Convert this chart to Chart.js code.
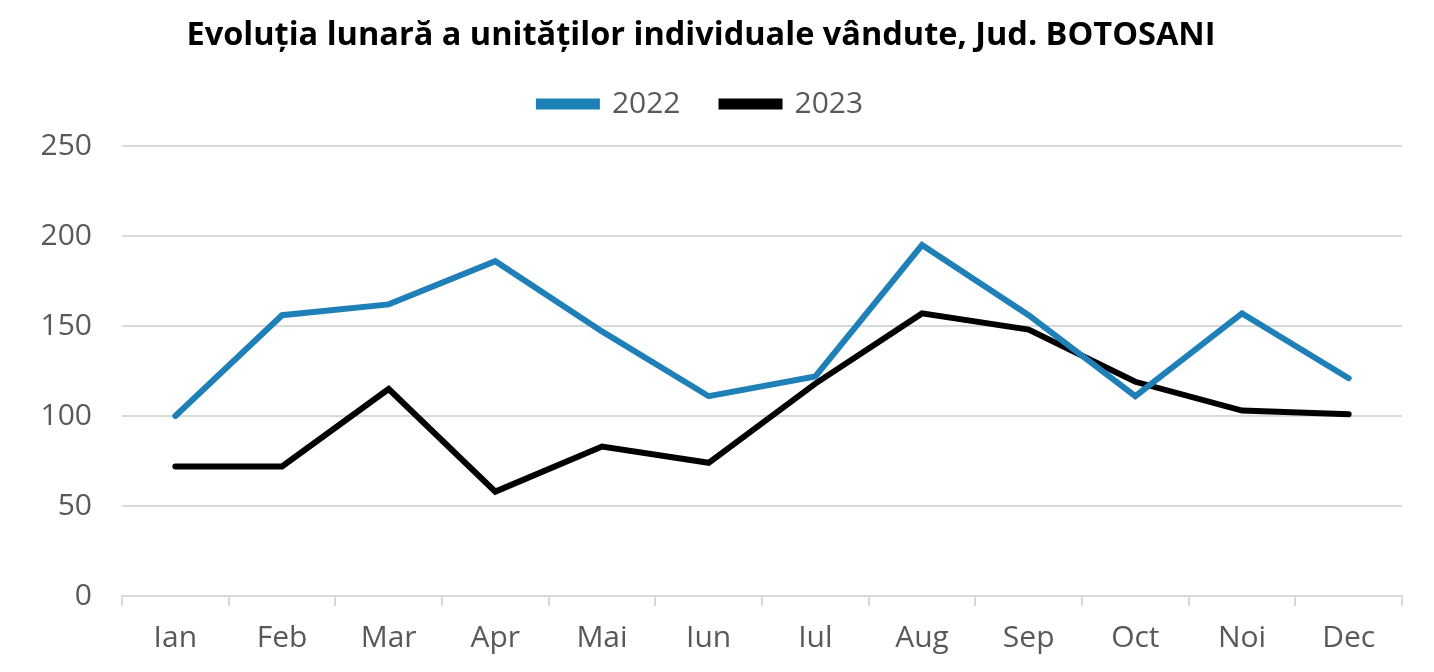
<!DOCTYPE html>
<html><head><meta charset="utf-8">
<script src="https://cdn.jsdelivr.net/npm/chart.js@4/dist/chart.umd.min.js"></script>
<style>html,body{margin:0;padding:0;background:#fff}#wrap{width:1434px;height:672px}</style>
</head><body><div id="wrap"><canvas id="c"></canvas></div>
<script>
const months = ['Ian','Feb','Mar','Apr','Mai','Iun','Iul','Aug','Sep','Oct','Noi','Dec'];
const series2022 = [100,156,162,186,147,111,122,195,156,111,157,121];
const series2023 = [72,72,115,58,83,74,118,157,148,119,103,101];
const yTicks = [0,50,100,150,200,250];
const titleText = 'Evoluția lunară a unităților individuale vândute, Jud. BOTOSANI';

const FONT = "'Open Sans', 'Noto Sans', sans-serif";
new Chart(document.getElementById('c'), {
  type: 'line',
  data: {
    labels: months,
    datasets: [
      {label:'2022', data: series2022, borderColor:'#1F80B8', backgroundColor:'#1F80B8', borderWidth:6, pointRadius:0, tension:0, borderCapStyle:'round', borderJoinStyle:'miter'},
      {label:'2023', data: series2023, borderColor:'#000000', backgroundColor:'#000000', borderWidth:6, pointRadius:0, tension:0, borderCapStyle:'round', borderJoinStyle:'miter'}
    ]
  },
  options: {
    responsive:true, maintainAspectRatio:false, animation:false,
    layout:{padding:{left:0,right:32,top:0,bottom:0}},
    plugins:{
      title:{display:true, text:titleText, color:'#000', font:{family:FONT, size:32.5, weight:'bold'}, padding:{top:16,bottom:-7}},
      legend:{display:true, position:'top', weight:1000, labels:{color:'#595959', font:{family:FONT, size:30}, boxWidth:58, boxHeight:5, padding:41}},
      subtitle:{display:true, position:'top', weight:500, text:'', font:{size:10}, padding:{top:0,bottom:5}},
      tooltip:{enabled:false}
    },
    scales:{
      x:{
        offset:true,
        grid:{offset:true, drawOnChartArea:false, drawTicks:true, tickLength:10, color:'#d9d9d9', lineWidth:2},
        border:{display:true, color:'#d9d9d9', width:2},
        ticks:{color:'#595959', font:{family:FONT, size:30}, padding:14, maxRotation:0},
        afterFit(s){ s.height = 76; }
      },
      y:{
        min:0, max:250,
        afterBuildTicks(s){ s.ticks = yTicks.map(v=>({value:v})); },
        grid:{color:'#d9d9d9', lineWidth:2, drawTicks:false},
        border:{display:false},
        ticks:{color:'#595959', font:{family:FONT, size:30}, padding:30},
        afterFit(s){ s.width = 122; }
      }
    }
  }
});
</script></body></html>
